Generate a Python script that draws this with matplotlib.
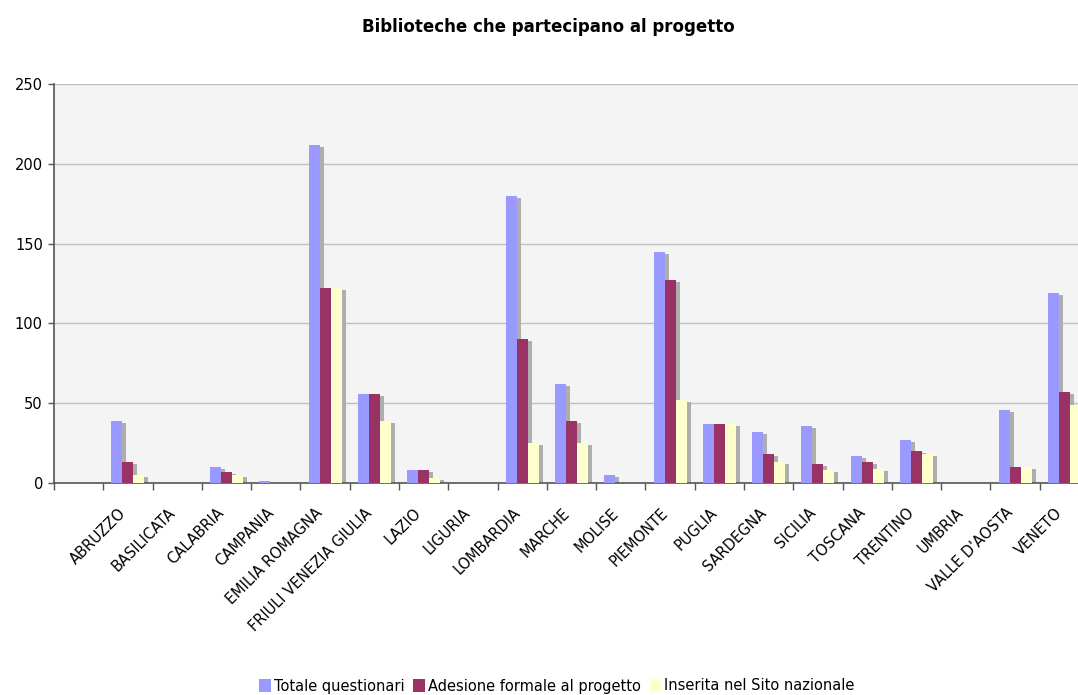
import matplotlib
matplotlib.use('Agg')
import matplotlib.pyplot as plt
import numpy as np

# ========================== DATA ==========================
regions = [
    'ABRUZZO', 'BASILICATA', 'CALABRIA', 'CAMPANIA', 'EMILIA ROMAGNA',
    'FRIULI VENEZIA GIULIA', 'LAZIO', 'LIGURIA', 'LOMBARDIA', 'MARCHE',
    'MOLISE', 'PIEMONTE', 'PUGLIA', 'SARDEGNA', 'SICILIA', 'TOSCANA',
    'TRENTINO', 'UMBRIA', "VALLE D'AOSTA", 'VENETO'
]
totale_questionari = [39, 0, 10, 1, 212, 56, 8, 0, 180, 62, 5, 145, 37, 32, 36, 17, 27, 0, 46, 119]
adesione_formale = [13, 0, 7, 0, 122, 56, 8, 0, 90, 39, 0, 127, 37, 18, 12, 13, 20, 0, 10, 57]
inserita_sito = [5, 0, 5, 0, 122, 39, 3, 0, 25, 25, 0, 52, 37, 13, 8, 9, 18, 0, 10, 49]

series_names = ['Totale questionari', 'Adesione formale al progetto', 'Inserita nel Sito nazionale']
series_colors = ['#9999FF', '#993366', '#FFFFCC']
# ===========================================================

fig = plt.figure(figsize=(10.78, 6.95), dpi=100)
# axes is wider than the figure on purpose: the last category is cut at the right edge
ax = fig.add_axes([54 / 1078, 212 / 695, 1035 / 1078, 399 / 695])
ax.set_facecolor('#F4F4F4')

# first slot on the axis is empty, regions start at position 1
x = np.arange(1, len(regions) + 1)
width = 0.223
offsets = [-width, 0, width]
all_series = [totale_questionari, adesione_formale, inserita_sito]

# shadows first (slightly right and lower), then the real bars on top
for vals, off in zip(all_series, offsets):
    shadow = [max(v - 1.3, 0) for v in vals]
    ax.bar(x + off + 0.08, shadow, width, color='#AEAEAE', zorder=2, linewidth=0)

for vals, off, name, col in zip(all_series, offsets, series_names, series_colors):
    ax.bar(x + off, vals, width, color=col, label=name, zorder=3, linewidth=0)

ax.set_xlim(-0.5, len(regions) + 0.5)
ax.set_ylim(0, 250)
ax.set_yticks([0, 50, 100, 150, 200, 250])
ax.yaxis.grid(True, color='#C0C0C0', linewidth=1.0, zorder=1)
ax.set_axisbelow(True)

# labels sit a bit left of the centres (invisible ticks), tick marks at the boundaries
ax.set_xticks(x - 0.2)
ax.set_xticklabels(regions, rotation=45, ha='right', va='top', rotation_mode='anchor', fontsize=10.5)
ax.set_xticks(np.arange(-0.5, len(regions) + 1), minor=True)
ax.tick_params(axis='x', which='major', length=0, pad=16)
ax.tick_params(axis='x', which='minor', length=5, width=1, color='#555555', direction='out')
ax.tick_params(axis='y', length=4, width=1, color='#555555', labelsize=10.5, pad=4)

for side in ['top', 'right']:
    ax.spines[side].set_visible(False)
ax.spines['left'].set_color('#555555')
ax.spines['bottom'].set_color('#555555')
ax.spines['left'].set_linewidth(1.2)
ax.spines['bottom'].set_linewidth(1.2)

fig.text(548 / 1078, 1 - 27 / 695, 'Biblioteche che partecipano al progetto',
         ha='center', va='center', fontsize=12, fontweight='bold')

fig.legend(loc='center', bbox_to_anchor=(557 / 1078, 1 - 686 / 695), ncol=3,
           frameon=False, fontsize=10.5, handlelength=0.8, handleheight=0.9,
           handletextpad=0.2, columnspacing=0.6, borderaxespad=0)

fig.savefig('out.png', dpi=100)
